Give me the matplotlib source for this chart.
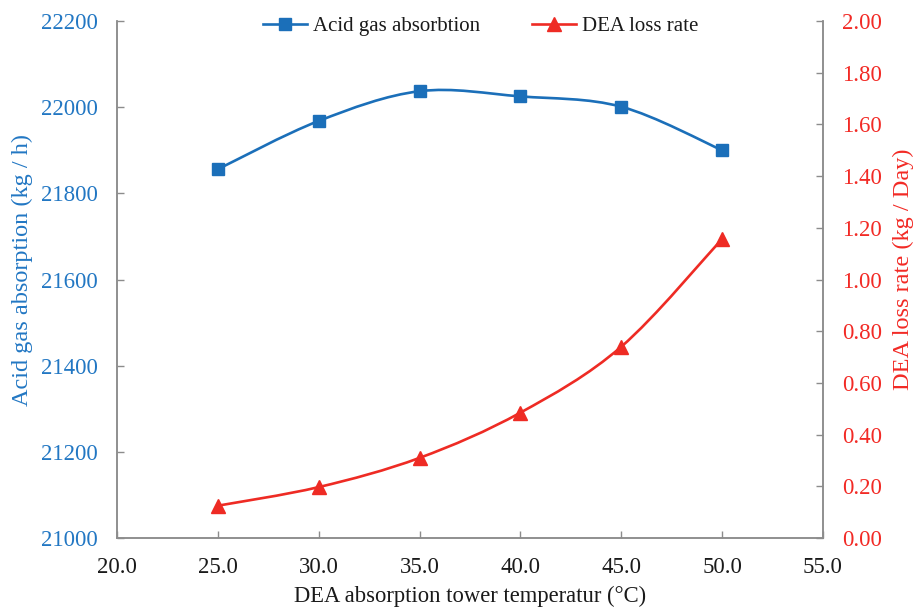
import matplotlib
matplotlib.use("Agg")
import matplotlib.pyplot as plt
from matplotlib.path import Path
from matplotlib.patches import PathPatch
from matplotlib.lines import Line2D
from matplotlib.ticker import MultipleLocator, FormatStrFormatter

# ---- data ----
temperature = [25.0, 30.0, 35.0, 40.0, 45.0, 50.0]
acid_gas_absorption = [21856, 21968, 22037, 22025, 22001, 21900]
dea_loss_rate = [0.125, 0.197, 0.31, 0.485, 0.74, 1.157]

series1_name = "Acid gas absorbtion"
series2_name = "DEA loss rate"
x_label = "DEA absorption tower temperatur (\u00b0C)"
y1_label = "Acid gas absorption (kg / h)"
y2_label = "DEA loss rate (kg / Day)"

BLUE = "#1b6fb9"
BLUE_TXT = "#2277c3"
RED = "#ee2b24"
RED_TXT = "#f22a25"
GRAY = "#8c8c8c"

plt.rcParams["font.family"] = ["Liberation Serif", "DejaVu Serif"]
FS_TICK = 16.5
FS_XLAB = 16.3
FS_YLAB = 17.5
FS_LEG = 15


def smooth_path(xs, ys):
    """Excel-style smoothed line as cubic Bezier segments through the points."""
    n = len(xs)
    pts = list(zip(xs, ys))
    verts = [pts[0]]
    codes = [Path.MOVETO]
    for i in range(n - 1):
        p0 = pts[i - 1] if i > 0 else pts[i]
        p1 = pts[i]
        p2 = pts[i + 1]
        p3 = pts[i + 2] if i + 2 < n else pts[i + 1]
        c1 = (p1[0] + (p2[0] - p0[0]) / 6.0, p1[1] + (p2[1] - p0[1]) / 6.0)
        c2 = (p2[0] - (p3[0] - p1[0]) / 6.0, p2[1] - (p3[1] - p1[1]) / 6.0)
        verts += [c1, c2, p2]
        codes += [Path.CURVE4] * 3
    return Path(verts, codes)


fig = plt.figure(figsize=(9.14, 6.10), dpi=100)
ax = fig.add_axes([0.128, 0.118, 0.7724, 0.8476])
ax2 = ax.twinx()

# series 1
ax.add_patch(PathPatch(smooth_path(temperature, acid_gas_absorption),
                       facecolor="none", edgecolor=BLUE, lw=1.9, zorder=3))
ax.plot(temperature, acid_gas_absorption, linestyle="none", marker="s",
        markersize=8.5, color=BLUE, zorder=4)
# series 2
ax2.add_patch(PathPatch(smooth_path(temperature, dea_loss_rate),
                        facecolor="none", edgecolor=RED, lw=1.9, zorder=3))
ax2.plot(temperature, dea_loss_rate, linestyle="none", marker="^",
         markersize=9.5, color=RED, zorder=4)

ax.set_xlim(20, 55)
ax.set_ylim(21000, 22200)
ax2.set_ylim(0, 2.0)
ax.xaxis.set_major_locator(MultipleLocator(5))
ax.xaxis.set_major_formatter(FormatStrFormatter("%.1f"))
ax.yaxis.set_major_locator(MultipleLocator(200))
ax2.yaxis.set_major_locator(MultipleLocator(0.2))
ax2.yaxis.set_major_formatter(FormatStrFormatter("%.2f"))

for a in (ax, ax2):
    a.spines["top"].set_visible(False)
    for s in ("left", "right", "bottom"):
        a.spines[s].set_color(GRAY)
        a.spines[s].set_linewidth(1.1)
    a.patch.set_visible(False)

ax.tick_params(axis="x", direction="in", length=5, width=1, color=GRAY,
               labelsize=FS_TICK, labelcolor="#1a1a1a", pad=14)
ax.tick_params(axis="y", direction="in", length=5, width=1, color=GRAY,
               labelsize=FS_TICK, labelcolor=BLUE_TXT, pad=14)
ax2.tick_params(axis="y", direction="in", length=5, width=1, color=GRAY,
                labelsize=FS_TICK, labelcolor=RED_TXT, pad=14)

ax.set_xlabel(x_label, fontsize=FS_XLAB, color="#1a1a1a")
ax.xaxis.set_label_coords(0.5, -0.093)
ax.set_ylabel(y1_label, fontsize=FS_YLAB, color=BLUE_TXT, va="center")
ax.yaxis.set_label_coords(-0.1346, 0.518)
ax2.set_ylabel(y2_label, fontsize=FS_YLAB, color=RED_TXT, va="center", rotation=90)
ax2.yaxis.set_label_coords(1.1133, 0.52)

handles = [
    Line2D([], [], color=BLUE, lw=1.9, marker="s", markersize=8.5),
    Line2D([], [], color=RED, lw=1.9, marker="^", markersize=9.5),
]
fig.legend(handles, [series1_name, series2_name], loc="center",
           bbox_to_anchor=(0.526, 0.957), ncol=2, frameon=False,
           fontsize=FS_LEG, handlelength=2.1, handletextpad=0.3,
           columnspacing=2.5, labelcolor="#1a1a1a")

fig.savefig("out.png", dpi=100)
